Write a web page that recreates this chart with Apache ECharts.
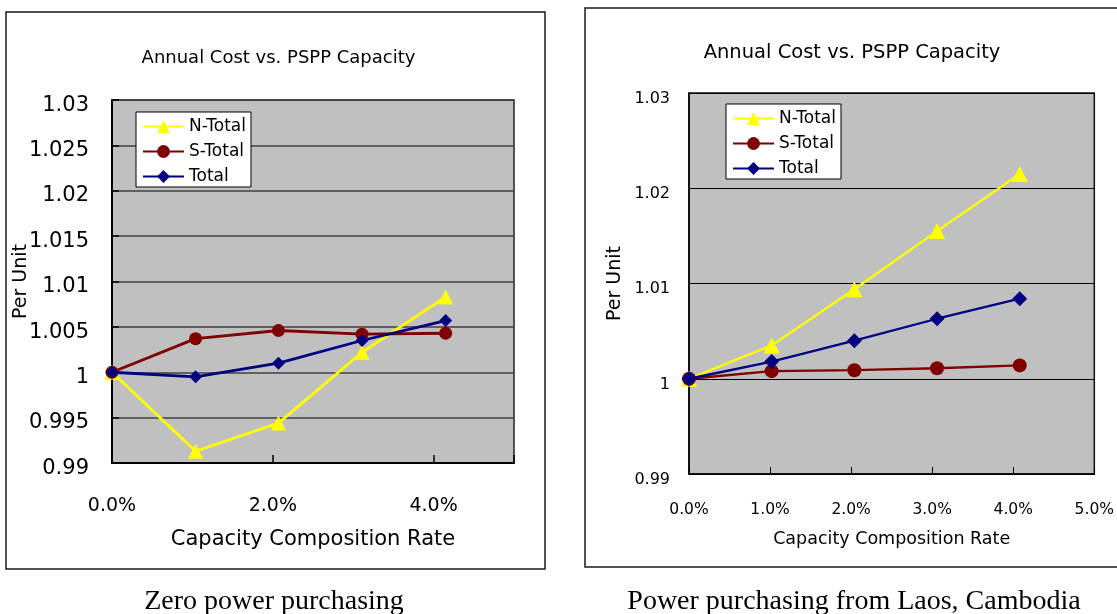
<!DOCTYPE html>
<html>
<head>
<meta charset="utf-8">
<title>Annual Cost vs. PSPP Capacity</title>
<script src="https://cdn.jsdelivr.net/npm/echarts@6/dist/echarts.min.js"></script>
<style>
  html, body { margin: 0; padding: 0; background: #ffffff; }
  #chart { width: 1117px; height: 614px; }
</style>
</head>
<body>
<div id="chart"></div>
<script>
// Capacity composition rate (%) of each case
const rateZero = [0, 1.04, 2.07, 3.11, 4.15];
const rateLaos = [0, 1.02, 2.04, 3.06, 4.08];

// Annual cost, per unit: zero power purchasing
const nTotalZero = [1.0000, 0.9913, 0.9944, 1.0022, 1.0083];
const sTotalZero = [1.0000, 1.0037, 1.0046, 1.0042, 1.0043];
const totalZero  = [1.0000, 0.9995, 1.0010, 1.0035, 1.0057];

// Annual cost, per unit: power purchasing from Laos, Cambodia
const nTotalLaos = [1.0000, 1.0035, 1.0094, 1.0155, 1.0215];
const sTotalLaos = [1.0000, 1.0008, 1.0009, 1.0011, 1.0014];
const totalLaos  = [1.0000, 1.0018, 1.0040, 1.0063, 1.0084];

const seriesNames = ['N-Total', 'S-Total', 'Total'];
const xTicksZero = ['0.0%', '2.0%', '4.0%'];
const xTicksLaos = ['0.0%', '1.0%', '2.0%', '3.0%', '4.0%', '5.0%'];
const yTicksZero = ['0.99', '0.995', '1', '1.005', '1.01', '1.015', '1.02', '1.025', '1.03'];
const yTicksLaos = ['0.99', '1', '1.01', '1.02', '1.03'];
const chartTitle = 'Annual Cost vs. PSPP Capacity';
const xName = 'Capacity Composition Rate';
const yName = 'Per Unit';
const captions = ['Zero power purchasing', 'Power purchasing from Laos, Cambodia'];

const SANS = 'DejaVu Sans';
const SERIF = 'Liberation Serif';
const marks = [
  { color: '#FFFF00', symbol: 'triangle' },
  { color: '#800000', symbol: 'circle' },
  { color: '#000080', symbol: 'diamond' }
];

function pairs(xs, ys) { return xs.map((x, i) => [x, ys[i]]); }

function makeSeries(gridIdx, xs, ysList, sizes, width) {
  return ysList.map((ys, k) => ({
    name: seriesNames[k],
    type: 'line',
    xAxisIndex: gridIdx,
    yAxisIndex: gridIdx,
    data: pairs(xs, ys),
    symbol: marks[k].symbol,
    symbolSize: sizes[k],
    showAllSymbol: true,
    color: marks[k].color,
    lineStyle: { color: marks[k].color, width: width },
    itemStyle: { color: marks[k].color },
    emphasis: { disabled: true },
    z: 3 + k
  }));
}

function legendAt(left, top) {
  return {
    data: seriesNames,
    orient: 'vertical',
    left: left,
    top: top,
    padding: [6, 5, 2, 6],
    itemGap: 8,
    itemWidth: 41,
    itemHeight: 16,
    backgroundColor: '#ffffff',
    borderColor: '#000000',
    borderWidth: 1,
    borderRadius: 0,
    selectedMode: false,
    textStyle: { fontFamily: SANS, fontSize: 17, color: '#000000' }
  };
}

const chart = echarts.init(document.getElementById('chart'), null, { renderer: 'canvas' });

chart.setOption({
  animation: false,
  backgroundColor: '#ffffff',
  textStyle: { fontFamily: SANS, color: '#000000' },
  graphic: [
    { type: 'rect', z: -5, silent: true, shape: { x: 6, y: 12, width: 539, height: 557 },
      style: { fill: 'none', stroke: '#1a1a1a', lineWidth: 1.5 } },
    { type: 'rect', z: -5, silent: true, shape: { x: 585, y: 8, width: 560, height: 559 },
      style: { fill: 'none', stroke: '#1a1a1a', lineWidth: 1.5 } },
    { type: 'text', silent: true, x: 278.5, y: 58,
      style: { text: chartTitle, font: '18px "' + SANS + '"', fill: '#000', align: 'center', verticalAlign: 'middle' } },
    { type: 'text', silent: true, x: 852, y: 52.5,
      style: { text: chartTitle, font: '19.5px "' + SANS + '"', fill: '#000', align: 'center', verticalAlign: 'middle' } },
    { type: 'text', silent: true, x: 274, y: 601.5,
      style: { text: captions[0], font: '28px "' + SERIF + '"', fill: '#000', align: 'center', verticalAlign: 'middle' } },
    { type: 'text', silent: true, x: 854, y: 601.5,
      style: { text: captions[1], font: '28px "' + SERIF + '"', fill: '#000', align: 'center', verticalAlign: 'middle' } }
  ],
  legend: [legendAt(136, 112), legendAt(726, 104)],
  grid: [
    { left: 112, top: 100, width: 402, height: 363, show: true,
      backgroundColor: '#C0C0C0', borderColor: '#222222', borderWidth: 1.5, containLabel: false },
    { left: 689, top: 93, width: 413, height: 381, show: true,
      backgroundColor: '#C0C0C0', borderColor: '#111111', borderWidth: 1.5, containLabel: false }
  ],
  xAxis: [
    {
      type: 'value', gridIndex: 0, min: 0, max: 5, interval: 2,
      name: xName, nameLocation: 'middle', nameGap: 66, nameMoveOverlap: false,
      nameTextStyle: { fontFamily: SANS, fontSize: 21, color: '#000' },
      axisLine: { show: true, lineStyle: { color: '#000', width: 2 } },
      axisTick: { show: true, inside: true, length: 8, lineStyle: { color: '#000', width: 1.5 } },
      splitLine: { show: false },
      axisLabel: { fontFamily: SANS, fontSize: 19, color: '#000', margin: 34,
        formatter: (v, i) => (xTicksZero[i] !== undefined ? xTicksZero[i] : '') }
    },
    {
      type: 'value', gridIndex: 1, min: 0, max: 5, interval: 1,
      name: xName, nameLocation: 'middle', nameGap: 56.5, nameMoveOverlap: false,
      nameTextStyle: { fontFamily: SANS, fontSize: 17.5, color: '#000' },
      axisLine: { show: true, lineStyle: { color: '#000', width: 1.5 } },
      axisTick: { show: true, inside: true, length: 7, lineStyle: { color: '#000', width: 1 } },
      splitLine: { show: false },
      axisLabel: { fontFamily: SANS, fontSize: 15.5, color: '#000', margin: 28,
        formatter: (v, i) => (xTicksLaos[i] !== undefined ? xTicksLaos[i] : '') }
    }
  ],
  yAxis: [
    {
      type: 'value', gridIndex: 0, min: 0.99, max: 1.03, interval: 0.005,
      name: yName, nameLocation: 'middle', nameGap: 81, nameMoveOverlap: false,
      nameTextStyle: { fontFamily: SANS, fontSize: 19, color: '#000' },
      axisLine: { show: true, lineStyle: { color: '#000', width: 2 } },
      axisTick: { show: true, inside: true, length: 7, lineStyle: { color: '#000', width: 1.5 } },
      splitLine: { show: true, lineStyle: { color: '#404040', width: 1.5 } },
      axisLabel: { fontFamily: SANS, fontSize: 21, color: '#000', margin: 23,
        verticalAlign: 'top', lineHeight: 10.5,
        formatter: (v, i) => (yTicksZero[i] !== undefined ? yTicksZero[i] : '') }
    },
    {
      type: 'value', gridIndex: 1, min: 0.99, max: 1.03, interval: 0.01,
      name: yName, nameLocation: 'middle', nameGap: 64, nameMoveOverlap: false,
      nameTextStyle: { fontFamily: SANS, fontSize: 19, color: '#000' },
      axisLine: { show: true, lineStyle: { color: '#000', width: 1.5 } },
      axisTick: { show: true, inside: true, length: 6, lineStyle: { color: '#000', width: 1 } },
      splitLine: { show: true, lineStyle: { color: '#000000', width: 1 } },
      axisLabel: { fontFamily: SANS, fontSize: 16, color: '#000', margin: 19,
        verticalAlign: 'top', lineHeight: 11.2,
        formatter: (v, i) => (yTicksLaos[i] !== undefined ? yTicksLaos[i] : '') }
    }
  ],
  series: [
    ...makeSeries(0, rateZero, [nTotalZero, sTotalZero, totalZero], [15, 13, 13], 2.8),
    ...makeSeries(1, rateLaos, [nTotalLaos, sTotalLaos, totalLaos], [16, 14, 15], 2.3)
  ]
});
</script>
</body>
</html>
